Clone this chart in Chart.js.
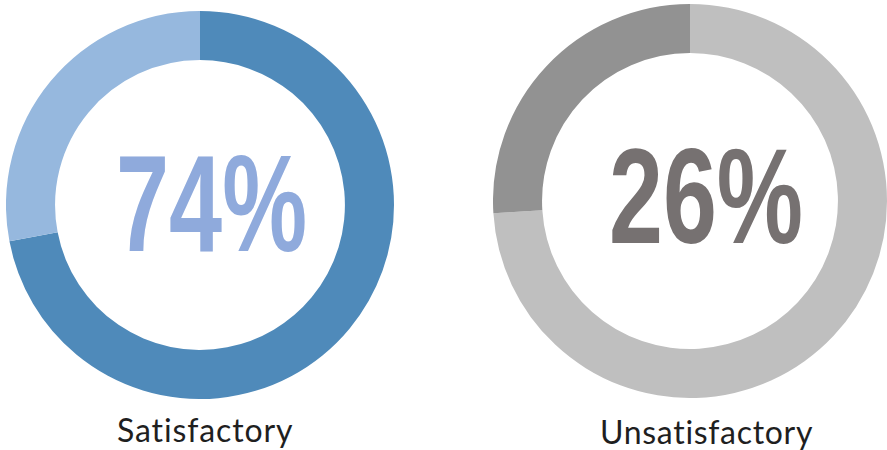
<!DOCTYPE html>
<html>
<head>
<meta charset="utf-8">
<script src="https://cdn.jsdelivr.net/npm/chart.js@4/dist/chart.umd.min.js"></script>
<style>
  html, body { margin: 0; padding: 0; background: #ffffff; }
  body { width: 887px; height: 450px; position: relative; overflow: hidden; }
  canvas { position: absolute; }
  .pct { position: absolute; font-family: "Liberation Sans Narrow", "Liberation Sans", Arial, sans-serif; font-weight: bold; font-size: 136px; line-height: 1; white-space: nowrap; transform-origin: 0 0; }
  .lbl { position: absolute; font-family: "Lato", "Open Sans", sans-serif; font-weight: 400; font-size: 32px; line-height: 1; color: #1f1f1f; white-space: nowrap; }
</style>
</head>
<body>
<canvas id="c1" width="388" height="388" style="left:6px;top:11px;"></canvas>
<canvas id="c2" width="394" height="394" style="left:493px;top:4px;"></canvas>
<div id="p1" class="pct" style="color:#8faadc;"></div>
<div id="p2" class="pct" style="color:#767171;"></div>
<div id="l1" class="lbl"></div>
<div id="l2" class="lbl"></div>
<script>
const categories = ["Satisfactory", "Unsatisfactory"];
const satisfactoryValues = [72, 28];
const unsatisfactoryValues = [74, 26];
const centerLabels = ["74%", "26%"];

function makeDonut(id, values, colors, cutout) {
  return new Chart(document.getElementById(id), {
    type: "doughnut",
    data: {
      labels: ["a", "b"],
      datasets: [{ data: values, backgroundColor: colors, borderWidth: 0 }]
    },
    options: {
      responsive: false,
      animation: false,
      cutout: cutout,
      layout: { padding: 0 },
      plugins: { legend: { display: false }, tooltip: { enabled: false } }
    }
  });
}
makeDonut("c1", satisfactoryValues, ["#4f8aba", "#96b8de"], "74.7%");
makeDonut("c2", unsatisfactoryValues, ["#bfbfbf", "#929292"], "75.1%");

document.getElementById("p1").textContent = centerLabels[0];
document.getElementById("p2").textContent = centerLabels[1];
document.getElementById("l1").textContent = categories[0];
document.getElementById("l2").textContent = categories[1];

function fit(id, x0, x1, yTop, capH) {
  const el = document.getElementById(id);
  const fs = capH / 0.716;
  el.style.fontSize = fs + "px";
  const w2 = el.getBoundingClientRect().width;
  const sx = (x1 - x0) / w2;
  const capTopOffset = fs * (0.905 - 0.716) + fs * ((1 - (0.905 + 0.212)) / 2);
  el.style.left = x0 + "px";
  el.style.top = (yTop - capTopOffset) + "px";
  el.style.transform = "scaleX(" + sx + ")";
}
fit("p1", 116, 307, 154, 98);
fit("p2", 609, 803, 147, 97);

function fitLabel(id, x0, x1, baseline) {
  const el = document.getElementById(id);
  const n = el.textContent.length;
  const w = el.getBoundingClientRect().width;
  const ls = ((x1 - x0) - w) / (n - 1);
  el.style.letterSpacing = ls + "px";
  el.style.left = x0 + "px";
  // Lato: ascent ~0.987, descent ~0.213 of em; line-height 1 box
  const fs = 32;
  const asc = 0.987, desc = 0.213;
  const baseOffset = fs * (asc + (1 - asc - desc) / 2);
  el.style.top = (baseline - baseOffset) + "px";
}
fitLabel("l1", 117, 293, 442);
fitLabel("l2", 600, 813, 444);
</script>
</body>
</html>
